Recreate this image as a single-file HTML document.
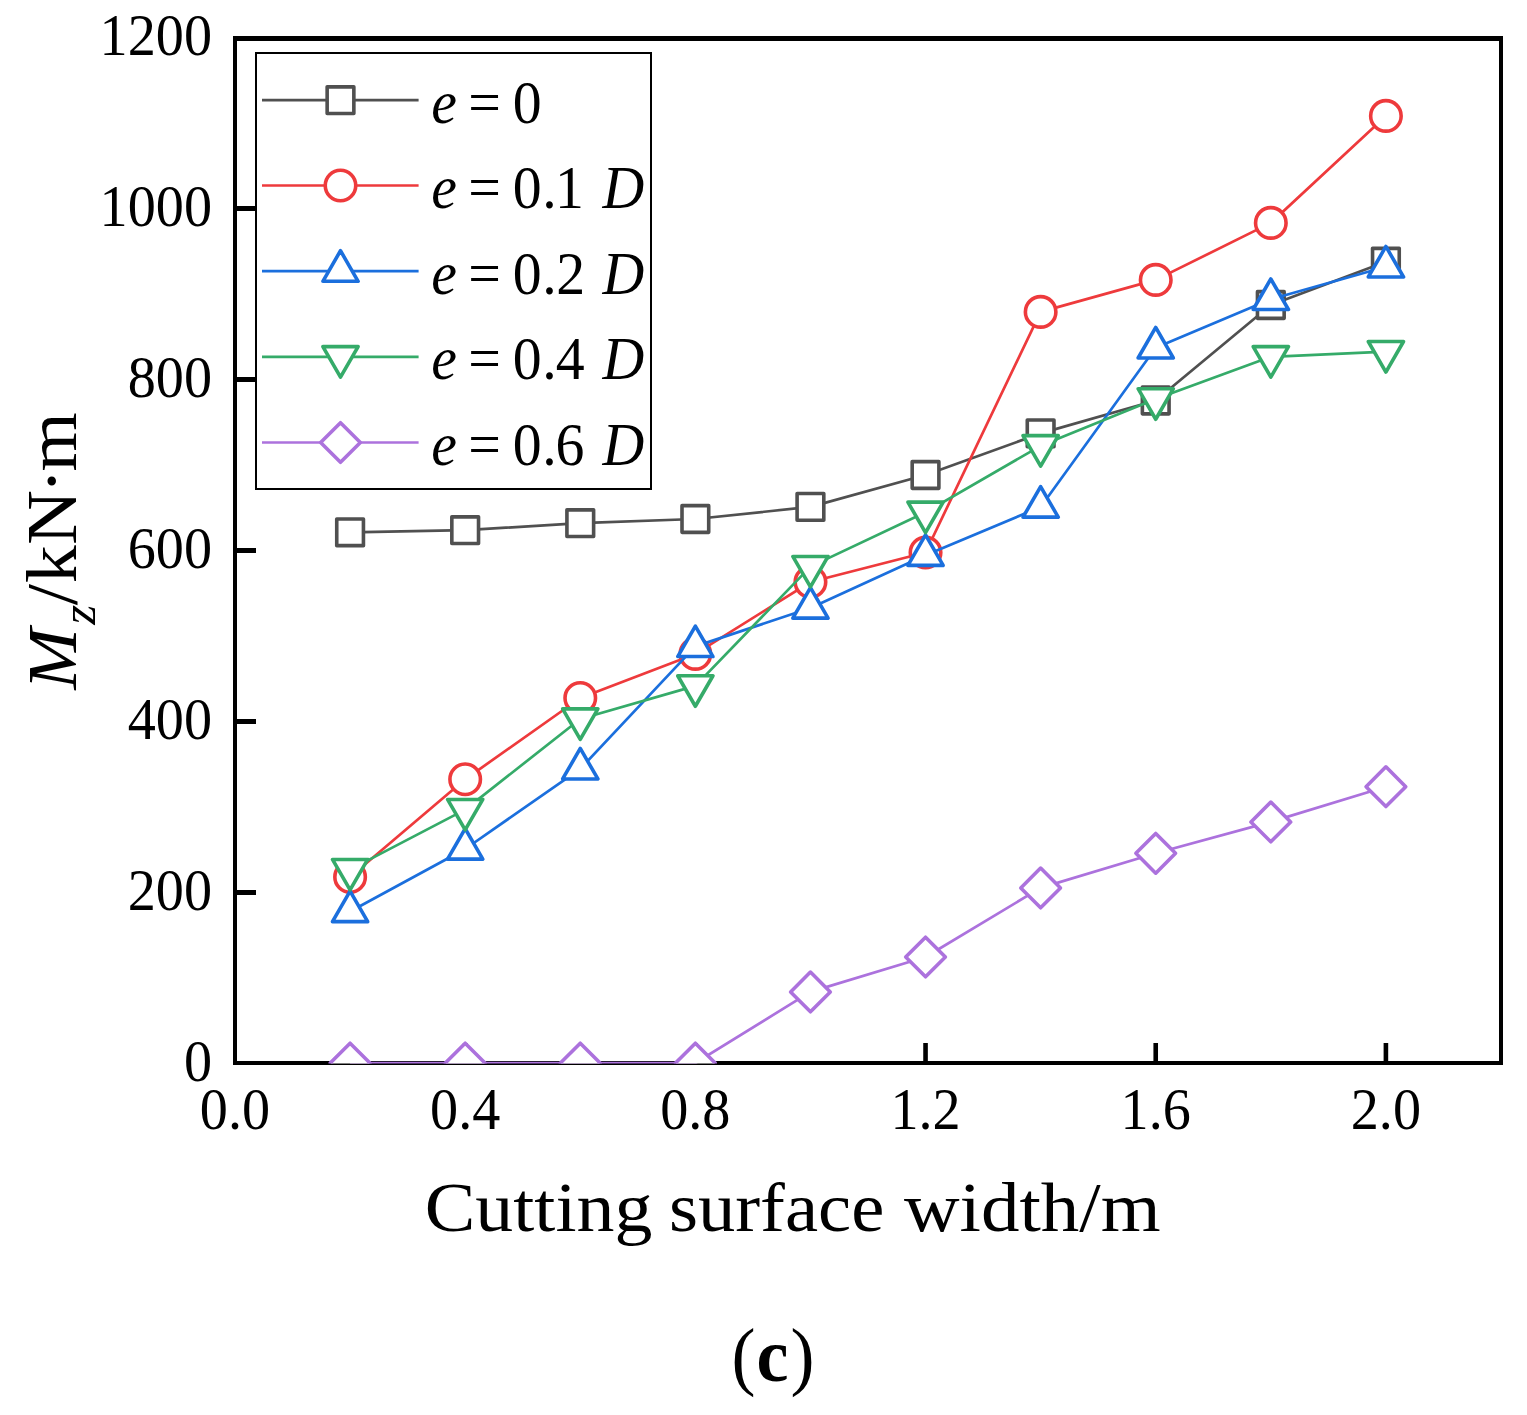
<!DOCTYPE html>
<html><head><meta charset="utf-8"><title>Mz vs cutting surface width</title>
<style>
html,body{margin:0;padding:0;background:#fff;}
svg{display:block;}
text{font-family:"Liberation Serif",serif;fill:#000;}
</style></head>
<body>
<svg width="1527" height="1415" viewBox="0 0 1527 1415">
<defs><clipPath id="pc"><rect x="235" y="38.5" width="1266" height="1025"/></clipPath></defs>
<rect width="1527" height="1415" fill="#fff"/>
<g fill="#000">
<rect x="233" y="36" width="4" height="1029"/>
<rect x="233" y="36" width="1270" height="5"/>
<rect x="1499" y="36" width="4" height="1029"/>
<rect x="233" y="1061" width="1270" height="4"/>
<rect x="237" y="890" width="19" height="5"/>
<rect x="237" y="719" width="19" height="5"/>
<rect x="237" y="548" width="19" height="5"/>
<rect x="237" y="377" width="19" height="5"/>
<rect x="237" y="206" width="19" height="5"/>
<rect x="462.88" y="1043" width="4.6" height="18"/>
<rect x="693.06" y="1043" width="4.6" height="18"/>
<rect x="923.24" y="1043" width="4.6" height="18"/>
<rect x="1153.42" y="1043" width="4.6" height="18"/>
<rect x="1383.6" y="1043" width="4.6" height="18"/>
</g>
<g clip-path="url(#pc)">
<polyline points="350.09,532.3 465.18,530.2 580.27,523.2 695.36,519 810.45,506.9 925.54,475 1040.63,433.4 1155.72,400.5 1270.81,305 1385.9,261.7" fill="none" stroke="#505050" stroke-width="2.7" stroke-linejoin="round"/><rect x="336.74" y="518.95" width="26.7" height="26.7" fill="#fff" stroke="#505050" stroke-width="3.6" stroke-linejoin="round"/><rect x="451.83" y="516.85" width="26.7" height="26.7" fill="#fff" stroke="#505050" stroke-width="3.6" stroke-linejoin="round"/><rect x="566.92" y="509.85" width="26.7" height="26.7" fill="#fff" stroke="#505050" stroke-width="3.6" stroke-linejoin="round"/><rect x="682.01" y="505.65" width="26.7" height="26.7" fill="#fff" stroke="#505050" stroke-width="3.6" stroke-linejoin="round"/><rect x="797.1" y="493.55" width="26.7" height="26.7" fill="#fff" stroke="#505050" stroke-width="3.6" stroke-linejoin="round"/><rect x="912.19" y="461.65" width="26.7" height="26.7" fill="#fff" stroke="#505050" stroke-width="3.6" stroke-linejoin="round"/><rect x="1027.28" y="420.05" width="26.7" height="26.7" fill="#fff" stroke="#505050" stroke-width="3.6" stroke-linejoin="round"/><rect x="1142.37" y="387.15" width="26.7" height="26.7" fill="#fff" stroke="#505050" stroke-width="3.6" stroke-linejoin="round"/><rect x="1257.46" y="291.65" width="26.7" height="26.7" fill="#fff" stroke="#505050" stroke-width="3.6" stroke-linejoin="round"/><rect x="1372.55" y="248.35" width="26.7" height="26.7" fill="#fff" stroke="#505050" stroke-width="3.6" stroke-linejoin="round"/>
<polyline points="350.09,877 465.18,779.3 580.27,698 695.36,653.9 810.45,582 925.54,552.5 1040.63,311.9 1155.72,279.9 1270.81,222.9 1385.9,115.9" fill="none" stroke="#EE3A3C" stroke-width="2.7" stroke-linejoin="round"/><circle cx="350.09" cy="877" r="15.25" fill="#fff" stroke="#EE3A3C" stroke-width="3.6" stroke-linejoin="round"/><circle cx="465.18" cy="779.3" r="15.25" fill="#fff" stroke="#EE3A3C" stroke-width="3.6" stroke-linejoin="round"/><circle cx="580.27" cy="698" r="15.25" fill="#fff" stroke="#EE3A3C" stroke-width="3.6" stroke-linejoin="round"/><circle cx="695.36" cy="653.9" r="15.25" fill="#fff" stroke="#EE3A3C" stroke-width="3.6" stroke-linejoin="round"/><circle cx="810.45" cy="582" r="15.25" fill="#fff" stroke="#EE3A3C" stroke-width="3.6" stroke-linejoin="round"/><circle cx="925.54" cy="552.5" r="15.25" fill="#fff" stroke="#EE3A3C" stroke-width="3.6" stroke-linejoin="round"/><circle cx="1040.63" cy="311.9" r="15.25" fill="#fff" stroke="#EE3A3C" stroke-width="3.6" stroke-linejoin="round"/><circle cx="1155.72" cy="279.9" r="15.25" fill="#fff" stroke="#EE3A3C" stroke-width="3.6" stroke-linejoin="round"/><circle cx="1270.81" cy="222.9" r="15.25" fill="#fff" stroke="#EE3A3C" stroke-width="3.6" stroke-linejoin="round"/><circle cx="1385.9" cy="115.9" r="15.25" fill="#fff" stroke="#EE3A3C" stroke-width="3.6" stroke-linejoin="round"/>
<polyline points="350.09,911.5 465.18,849 580.27,768.8 695.36,646.4 810.45,608 925.54,555.2 1040.63,507 1155.72,347.8 1270.81,299.3 1385.9,266.8" fill="none" stroke="#1B6FDD" stroke-width="2.7" stroke-linejoin="round"/><polygon points="350.09,891.15 367.71,921.67 332.47,921.67" fill="#fff" stroke="#1B6FDD" stroke-width="3.6" stroke-linejoin="round"/><polygon points="465.18,828.65 482.8,859.17 447.56,859.17" fill="#fff" stroke="#1B6FDD" stroke-width="3.6" stroke-linejoin="round"/><polygon points="580.27,748.45 597.89,778.97 562.65,778.97" fill="#fff" stroke="#1B6FDD" stroke-width="3.6" stroke-linejoin="round"/><polygon points="695.36,626.05 712.98,656.57 677.74,656.57" fill="#fff" stroke="#1B6FDD" stroke-width="3.6" stroke-linejoin="round"/><polygon points="810.45,587.65 828.07,618.17 792.83,618.17" fill="#fff" stroke="#1B6FDD" stroke-width="3.6" stroke-linejoin="round"/><polygon points="925.54,534.85 943.16,565.38 907.92,565.38" fill="#fff" stroke="#1B6FDD" stroke-width="3.6" stroke-linejoin="round"/><polygon points="1040.63,486.65 1058.25,517.17 1023.01,517.17" fill="#fff" stroke="#1B6FDD" stroke-width="3.6" stroke-linejoin="round"/><polygon points="1155.72,327.45 1173.34,357.98 1138.1,357.98" fill="#fff" stroke="#1B6FDD" stroke-width="3.6" stroke-linejoin="round"/><polygon points="1270.81,278.95 1288.43,309.48 1253.19,309.48" fill="#fff" stroke="#1B6FDD" stroke-width="3.6" stroke-linejoin="round"/><polygon points="1385.9,246.45 1403.52,276.98 1368.28,276.98" fill="#fff" stroke="#1B6FDD" stroke-width="3.6" stroke-linejoin="round"/>
<polyline points="350.09,869.6 465.18,809.6 580.27,719 695.36,685.9 810.45,566.6 925.54,512.3 1040.63,445.8 1155.72,398.9 1270.81,356.8 1385.9,351.7" fill="none" stroke="#35AB69" stroke-width="2.7" stroke-linejoin="round"/><polygon points="350.09,889.95 367.71,859.43 332.47,859.43" fill="#fff" stroke="#35AB69" stroke-width="3.6" stroke-linejoin="round"/><polygon points="465.18,829.95 482.8,799.43 447.56,799.43" fill="#fff" stroke="#35AB69" stroke-width="3.6" stroke-linejoin="round"/><polygon points="580.27,739.35 597.89,708.83 562.65,708.83" fill="#fff" stroke="#35AB69" stroke-width="3.6" stroke-linejoin="round"/><polygon points="695.36,706.25 712.98,675.73 677.74,675.73" fill="#fff" stroke="#35AB69" stroke-width="3.6" stroke-linejoin="round"/><polygon points="810.45,586.95 828.07,556.43 792.83,556.43" fill="#fff" stroke="#35AB69" stroke-width="3.6" stroke-linejoin="round"/><polygon points="925.54,532.65 943.16,502.12 907.92,502.12" fill="#fff" stroke="#35AB69" stroke-width="3.6" stroke-linejoin="round"/><polygon points="1040.63,466.15 1058.25,435.62 1023.01,435.62" fill="#fff" stroke="#35AB69" stroke-width="3.6" stroke-linejoin="round"/><polygon points="1155.72,419.25 1173.34,388.72 1138.1,388.72" fill="#fff" stroke="#35AB69" stroke-width="3.6" stroke-linejoin="round"/><polygon points="1270.81,377.15 1288.43,346.62 1253.19,346.62" fill="#fff" stroke="#35AB69" stroke-width="3.6" stroke-linejoin="round"/><polygon points="1385.9,372.05 1403.52,341.52 1368.28,341.52" fill="#fff" stroke="#35AB69" stroke-width="3.6" stroke-linejoin="round"/>
<polyline points="350.09,1063 465.18,1063 580.27,1063 695.36,1063 810.45,991.9 925.54,957 1040.63,887.9 1155.72,853.3 1270.81,821.9 1385.9,786.7" fill="none" stroke="#AC72DD" stroke-width="2.7" stroke-linejoin="round"/><polygon points="350.09,1043.15 369.94,1063 350.09,1082.85 330.24,1063" fill="#fff" stroke="#AC72DD" stroke-width="3.6" stroke-linejoin="round"/><polygon points="465.18,1043.15 485.03,1063 465.18,1082.85 445.33,1063" fill="#fff" stroke="#AC72DD" stroke-width="3.6" stroke-linejoin="round"/><polygon points="580.27,1043.15 600.12,1063 580.27,1082.85 560.42,1063" fill="#fff" stroke="#AC72DD" stroke-width="3.6" stroke-linejoin="round"/><polygon points="695.36,1043.15 715.21,1063 695.36,1082.85 675.51,1063" fill="#fff" stroke="#AC72DD" stroke-width="3.6" stroke-linejoin="round"/><polygon points="810.45,972.05 830.3,991.9 810.45,1011.75 790.6,991.9" fill="#fff" stroke="#AC72DD" stroke-width="3.6" stroke-linejoin="round"/><polygon points="925.54,937.15 945.39,957 925.54,976.85 905.69,957" fill="#fff" stroke="#AC72DD" stroke-width="3.6" stroke-linejoin="round"/><polygon points="1040.63,868.05 1060.48,887.9 1040.63,907.75 1020.78,887.9" fill="#fff" stroke="#AC72DD" stroke-width="3.6" stroke-linejoin="round"/><polygon points="1155.72,833.45 1175.57,853.3 1155.72,873.15 1135.87,853.3" fill="#fff" stroke="#AC72DD" stroke-width="3.6" stroke-linejoin="round"/><polygon points="1270.81,802.05 1290.66,821.9 1270.81,841.75 1250.96,821.9" fill="#fff" stroke="#AC72DD" stroke-width="3.6" stroke-linejoin="round"/><polygon points="1385.9,766.85 1405.75,786.7 1385.9,806.55 1366.05,786.7" fill="#fff" stroke="#AC72DD" stroke-width="3.6" stroke-linejoin="round"/>
</g>
<rect x="256" y="53" width="395" height="436" fill="#fff" stroke="#000" stroke-width="2"/>
<line x1="262" y1="100.2" x2="418.6" y2="100.2" stroke="#505050" stroke-width="2.7"/>
<rect x="327.15" y="86.85" width="26.7" height="26.7" fill="#fff" stroke="#505050" stroke-width="3.6" stroke-linejoin="round"/>
<g>
<text transform="matrix(0.948 0 0 1 0 0)" x="454.83" y="122.7" font-size="61" font-style="italic">e</text>
<text transform="matrix(0.948 0 0 1 0 0)" x="494" y="122.7" font-size="61">=</text>
<text transform="matrix(0.948 0 0 1 0 0)" x="540.87" y="122.7" font-size="61">0</text>
</g>
<line x1="262" y1="185.5" x2="418.6" y2="185.5" stroke="#EE3A3C" stroke-width="2.7"/>
<circle cx="340.5" cy="185.5" r="15.25" fill="#fff" stroke="#EE3A3C" stroke-width="3.6" stroke-linejoin="round"/>
<g>
<text transform="matrix(0.948 0 0 1 0 0)" x="454.83" y="208" font-size="61" font-style="italic">e</text>
<text transform="matrix(0.948 0 0 1 0 0)" x="494" y="208" font-size="61">=</text>
<text transform="matrix(0.948 0 0 1 0 0)" x="540.87 571.91 585.48" y="208" font-size="61">0.1</text>
<text transform="matrix(0.948 0 0 1 0 0)" x="635.53" y="208" font-size="61" font-style="italic">D</text>
</g>
<line x1="262" y1="271.1" x2="418.6" y2="271.1" stroke="#1B6FDD" stroke-width="2.7"/>
<polygon points="340.5,250.75 358.12,281.28 322.88,281.28" fill="#fff" stroke="#1B6FDD" stroke-width="3.6" stroke-linejoin="round"/>
<g>
<text transform="matrix(0.948 0 0 1 0 0)" x="454.83" y="293.6" font-size="61" font-style="italic">e</text>
<text transform="matrix(0.948 0 0 1 0 0)" x="494" y="293.6" font-size="61">=</text>
<text transform="matrix(0.948 0 0 1 0 0)" x="540.87 571.91 586.67" y="293.6" font-size="61">0.2</text>
<text transform="matrix(0.948 0 0 1 0 0)" x="635.53" y="293.6" font-size="61" font-style="italic">D</text>
</g>
<line x1="262" y1="356.8" x2="418.6" y2="356.8" stroke="#35AB69" stroke-width="2.7"/>
<polygon points="340.5,377.15 358.12,346.62 322.88,346.62" fill="#fff" stroke="#35AB69" stroke-width="3.6" stroke-linejoin="round"/>
<g>
<text transform="matrix(0.948 0 0 1 0 0)" x="454.83" y="379.3" font-size="61" font-style="italic">e</text>
<text transform="matrix(0.948 0 0 1 0 0)" x="494" y="379.3" font-size="61">=</text>
<text transform="matrix(0.948 0 0 1 0 0)" x="540.87 571.91 586.21" y="379.3" font-size="61">0.4</text>
<text transform="matrix(0.948 0 0 1 0 0)" x="635.53" y="379.3" font-size="61" font-style="italic">D</text>
</g>
<line x1="262" y1="442.5" x2="418.6" y2="442.5" stroke="#AC72DD" stroke-width="2.7"/>
<polygon points="340.5,422.65 360.35,442.5 340.5,462.35 320.65,442.5" fill="#fff" stroke="#AC72DD" stroke-width="3.6" stroke-linejoin="round"/>
<g>
<text transform="matrix(0.948 0 0 1 0 0)" x="454.83" y="465" font-size="61" font-style="italic">e</text>
<text transform="matrix(0.948 0 0 1 0 0)" x="494" y="465" font-size="61">=</text>
<text transform="matrix(0.948 0 0 1 0 0)" x="540.87 571.91 585.93" y="465" font-size="61">0.6</text>
<text transform="matrix(0.948 0 0 1 0 0)" x="635.53" y="465" font-size="61" font-style="italic">D</text>
</g>
<text transform="matrix(0.948 0 0 1 0 0)" x="193.99" y="1081.2" font-size="59.3">0</text>
<text transform="matrix(0.948 0 0 1 0 0)" x="134.7 164.35 193.99" y="910.2" font-size="59.3">200</text>
<text transform="matrix(0.948 0 0 1 0 0)" x="134.7 164.35 193.99" y="739.2" font-size="59.3">400</text>
<text transform="matrix(0.948 0 0 1 0 0)" x="134.7 164.35 193.99" y="568.2" font-size="59.3">600</text>
<text transform="matrix(0.948 0 0 1 0 0)" x="134.7 164.35 193.99" y="397.2" font-size="59.3">800</text>
<text transform="matrix(0.948 0 0 1 0 0)" x="105.06 134.7 164.35 193.99" y="226.2" font-size="59.3">1000</text>
<text transform="matrix(0.948 0 0 1 0 0)" x="105.06 134.7 164.35 193.99" y="55.2" font-size="59.3">1200</text>
<text transform="matrix(0.948 0 0 1 0 0)" x="210.84 240.48 255.3" y="1129.2" font-size="59.3">0.0</text>
<text transform="matrix(0.948 0 0 1 0 0)" x="453.64 483.28 498.11" y="1129.2" font-size="59.3">0.4</text>
<text transform="matrix(0.948 0 0 1 0 0)" x="696.45 726.09 740.91" y="1129.2" font-size="59.3">0.8</text>
<text transform="matrix(0.948 0 0 1 0 0)" x="939.25 968.9 983.72" y="1129.2" font-size="59.3">1.2</text>
<text transform="matrix(0.948 0 0 1 0 0)" x="1182.06 1211.7 1226.53" y="1129.2" font-size="59.3">1.6</text>
<text transform="matrix(0.948 0 0 1 0 0)" x="1424.87 1454.51 1469.33" y="1129.2" font-size="59.3">2.0</text>
<text x="424.69" y="1231.3" font-size="70" textLength="227.76" lengthAdjust="spacingAndGlyphs">Cutting</text>
<text x="668.94" y="1231.3" font-size="70" textLength="215.35" lengthAdjust="spacingAndGlyphs">surface</text>
<text x="903.92" y="1231.3" font-size="70" textLength="256.68" lengthAdjust="spacingAndGlyphs">width/m</text>
<text transform="translate(75.8 0) scale(0.948 1) rotate(-90)"><tspan x="-689.79" y="0" font-size="74" font-style="italic">M</tspan><tspan x="-624.76" y="20.5" font-size="51.3" font-style="italic">z</tspan><tspan x="-605.19" y="0" font-size="76.2">/</tspan><tspan x="-583.33" y="0" font-size="76.2">k</tspan><tspan x="-544.89" y="0" font-size="76.2">N</tspan><tspan x="-493.64" y="0" font-size="76.2">·</tspan><tspan x="-471.49" y="0" font-size="76.2">m</tspan></text>
<text transform="matrix(0.948 0 0 1 0 0)" x="771.61" y="1380.7" font-size="76">(</text>
<text transform="matrix(0.948 0 0 1 0 0)" x="798.08" y="1380.7" font-size="76" font-weight="bold">c</text>
<text transform="matrix(0.948 0 0 1 0 0)" x="833.78" y="1380.7" font-size="76">)</text>
</svg>
</body></html>
